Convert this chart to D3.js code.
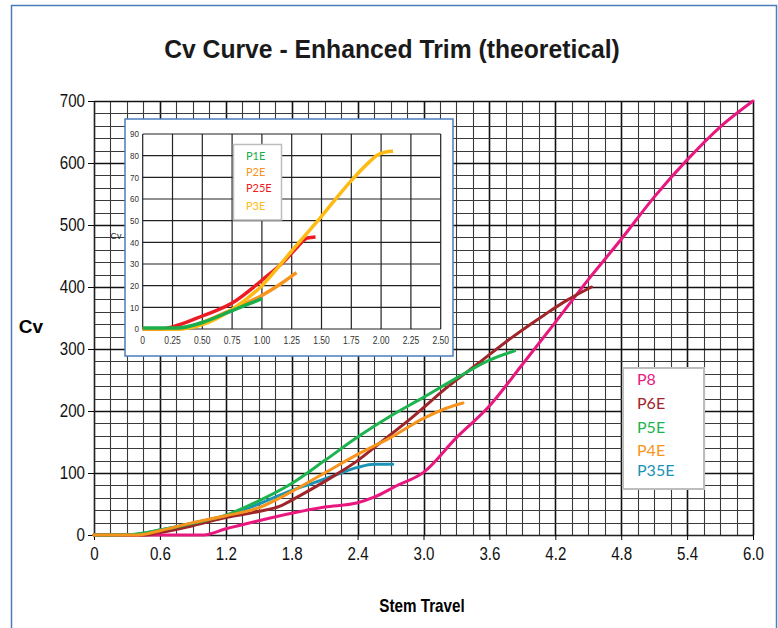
<!DOCTYPE html>
<html>
<head>
<meta charset="utf-8">
<script src="https://cdn.jsdelivr.net/npm/d3@7"></script>
<style>
  body { margin: 0; background: #fff; }
  text { font-family: "Liberation Sans", Arial, sans-serif; }
</style>
</head>
<body>
<div id="container"></div>
<script>
// ---- data ----
const xTicks = [0, 0.6, 1.2, 1.8, 2.4, 3.0, 3.6, 4.2, 4.8, 5.4, 6.0];
const xTickLabels = ['0', '0.6', '1.2', '1.8', '2.4', '3.0', '3.6', '4.2', '4.8', '5.4', '6.0'];
const yTicks = [0, 100, 200, 300, 400, 500, 600, 700];

const mainNames = ['P8', 'P6E', 'P5E', 'P4E', 'P35E'];

const p8Travel = [0, 1.0, 1.2, 1.5, 1.8, 2.1, 2.4, 2.55, 2.75, 3.0, 3.3, 3.6, 3.9, 4.2, 4.5, 4.8, 5.1, 5.4, 5.7, 6.0];
const p8Cv = [0, 0, 10, 23, 35, 45, 52, 61, 79, 101, 157, 208, 275, 343, 412, 477, 545, 605, 658, 700];

const p6eTravel = [0, 0.45, 0.6, 0.9, 1.2, 1.5, 1.7, 1.85, 2.0, 2.2, 2.4, 2.6, 2.9, 3.2, 3.5, 3.8, 4.1, 4.3, 4.53];
const p6eCv = [0, 0, 4, 15, 28, 38, 47, 61, 76, 97, 120, 148, 190, 236, 277, 318, 355, 378, 400];

const p5eTravel = [0, 0.35, 0.6, 0.9, 1.2, 1.5, 1.8, 2.1, 2.4, 2.7, 3.0, 3.3, 3.6, 3.83];
const p5eCv = [0, 1, 8, 19, 32, 55, 83, 120, 158, 192, 222, 253, 282, 297];

const p4eTravel = [0, 0.4, 0.6, 0.9, 1.2, 1.5, 1.8, 2.1, 2.4, 2.7, 3.0, 3.2, 3.36];
const p4eCv = [0, 0, 7, 20, 31, 44, 70, 100, 130, 157, 188, 204, 213];

const p35eTravel = [0, 0.35, 0.6, 0.9, 1.2, 1.5, 1.8, 2.0, 2.2, 2.4, 2.55, 2.72];
const p35eCv = [0, 1, 8, 19, 31, 50, 72, 84, 97, 109, 114, 114];

// inset
const insetXTicks = [0, 0.25, 0.5, 0.75, 1.0, 1.25, 1.5, 1.75, 2.0, 2.25, 2.5];
const insetXTickLabels = ['0', '0.25', '0.50', '0.75', '1.00', '1.25', '1.50', '1.75', '2.00', '2.25', '2.50'];
const insetYTicks = [0, 10, 20, 30, 40, 50, 60, 70, 80, 90];

const insetNames = ['P1E', 'P2E', 'P25E', 'P3E'];

const p1eTravel = [0, 0.3, 0.5, 0.75, 1.0];
const p1eCv = [0.5, 0.5, 3, 8.5, 14];

const p2eTravel = [0, 0.3, 0.5, 0.75, 1.0, 1.15, 1.29];
const p2eCv = [0, 0, 3, 9, 15.5, 20.5, 26];

const p25eTravel = [0, 0.15, 0.25, 0.5, 0.75, 1.0, 1.2, 1.3, 1.38, 1.45];
const p25eCv = [0, 0, 1, 6, 12, 22.5, 32, 38, 42, 42.5];

const p3eTravel = [0, 0.3, 0.5, 0.75, 1.0, 1.25, 1.5, 1.75, 1.9, 1.97, 2.03, 2.1];
const p3eCv = [0, 0, 2, 9, 20, 36, 52, 68.5, 77, 80.3, 81.6, 82];

// ---- drawing ----
const W = 778, H = 628;
const svg = d3.select('#container').append('svg')
  .attr('width', W).attr('height', H);

// squeeze text horizontally to imitate the narrow face of the original
const narrow = (sel, f) => sel.each(function () {
  const w = this.getComputedTextLength();
  d3.select(this).attr('textLength', w * f).attr('lengthAdjust', 'spacingAndGlyphs');
});

svg.append('rect').attr('width', W).attr('height', H).attr('fill', '#fff');
svg.append('rect')
  .attr('x', 11.5).attr('y', 5.5).attr('width', 765).attr('height', 700)
  .attr('fill', 'none').attr('stroke', '#4a7ebb').attr('stroke-width', 1.5);

svg.append('text')
  .attr('x', 392).attr('y', 58)
  .attr('text-anchor', 'middle')
  .attr('font-size', 26).attr('font-weight', 'bold').attr('fill', '#1a1a1a')
  .text('Cv Curve - Enhanced Trim (theoretical)')
  .call(narrow, 0.95);

const x = d3.scaleLinear().domain([0, 6]).range([94, 753]);
const y = d3.scaleLinear().domain([0, 700]).range([535, 101]);

// grid
const grid = svg.append('g');
const vGrid = d3.range(0, 41).map(i => i * 0.15);
const hGrid = d3.range(0, 36).map(i => i * 20);
grid.selectAll('.vg').data(vGrid).enter().append('line')
  .attr('x1', d => Math.round(x(d)) + 0.5).attr('x2', d => Math.round(x(d)) + 0.5)
  .attr('y1', y(700)).attr('y2', y(0))
  .attr('stroke', (d, i) => i % 4 === 0 ? '#111' : '#3a3a3a')
  .attr('stroke-width', (d, i) => i % 4 === 0 ? 1.6 : 1.1);
grid.selectAll('.hg').data(hGrid).enter().append('line')
  .attr('y1', d => Math.round(y(d)) + 0.5).attr('y2', d => Math.round(y(d)) + 0.5)
  .attr('x1', x(0)).attr('x2', x(6))
  .attr('stroke', (d, i) => i % 5 === 0 ? '#111' : '#3a3a3a')
  .attr('stroke-width', (d, i) => i % 5 === 0 ? 1.6 : 1.1);

// axes
const xAxis = svg.append('g')
  .attr('transform', `translate(0, ${y(0)})`)
  .call(d3.axisBottom(x).tickValues(xTicks).tickFormat((d, i) => xTickLabels[i]).tickSize(5).tickPadding(7));
xAxis.select('.domain').attr('stroke', '#222');
xAxis.selectAll('text').attr('font-size', 18).attr('fill', '#111')
  .style('font-family', '"Liberation Sans", Arial, sans-serif')
  .call(narrow, 0.84);

const yAxis = svg.append('g')
  .attr('transform', `translate(${x(0)}, 0)`)
  .call(d3.axisLeft(y).tickValues(yTicks).tickSize(6).tickPadding(3));
yAxis.select('.domain').attr('stroke', '#222');
yAxis.selectAll('text').attr('font-size', 18).attr('fill', '#111')
  .style('font-family', '"Liberation Sans", Arial, sans-serif')
  .call(narrow, 0.84);

svg.append('text')
  .attr('x', 31).attr('y', 333).attr('text-anchor', 'middle')
  .attr('font-size', 19).attr('font-weight', 'bold')
  .text('Cv');
svg.append('text')
  .attr('x', 422).attr('y', 612).attr('text-anchor', 'middle')
  .attr('font-size', 19).attr('font-weight', 'bold')
  .text('Stem Travel')
  .call(narrow, 0.8);

// main curves
const mainColors = { P8: '#e8187f', P6E: '#a0252a', P5E: '#1db34f', P4E: '#f7941d', P35E: '#1a93b5' };
const mainData = {
  P8: p8Travel.map((t, i) => [t, p8Cv[i]]),
  P6E: p6eTravel.map((t, i) => [t, p6eCv[i]]),
  P5E: p5eTravel.map((t, i) => [t, p5eCv[i]]),
  P4E: p4eTravel.map((t, i) => [t, p4eCv[i]]),
  P35E: p35eTravel.map((t, i) => [t, p35eCv[i]])
};
const line = d3.line().x(d => x(d[0])).y(d => y(d[1])).curve(d3.curveMonotoneX);
['P8', 'P35E', 'P6E', 'P5E', 'P4E'].forEach(k => {
  svg.append('path').datum(mainData[k])
    .attr('d', line)
    .attr('fill', 'none').attr('stroke', mainColors[k])
    .attr('stroke-width', 3).attr('stroke-linecap', 'round');
});

// main legend
const lg = svg.append('g');
lg.append('rect').attr('x', 623).attr('y', 368).attr('width', 81).attr('height', 121)
  .attr('fill', '#fff').attr('stroke', '#bdbdbd').attr('stroke-width', 2);
const legendY = [379, 403, 427, 450, 470];
mainNames.forEach((n, i) => {
  lg.append('text').attr('x', 637).attr('y', legendY[i]).attr('dy', '0.36em')
    .attr('font-size', 16).attr('fill', mainColors[n])
    .style('font-family', 'Lato, "Open Sans", sans-serif')
    .text(n);
});

// ---- inset ----
const inset = svg.append('g');
inset.append('rect').attr('x', 125).attr('y', 119).attr('width', 328).attr('height', 237)
  .attr('fill', '#fff').attr('stroke', '#4a7ebb').attr('stroke-width', 1.5);

const ix = d3.scaleLinear().domain([0, 2.5]).range([142.7, 440.7]);
const iy = d3.scaleLinear().domain([0, 90]).range([329, 134]);

inset.selectAll('.ivg').data(insetXTicks).enter().append('line')
  .attr('x1', d => ix(d)).attr('x2', d => ix(d)).attr('y1', iy(90)).attr('y2', iy(0))
  .attr('stroke', '#222').attr('stroke-width', 1.2);
inset.selectAll('.ihg').data(insetYTicks).enter().append('line')
  .attr('y1', d => iy(d)).attr('y2', d => iy(d)).attr('x1', ix(0)).attr('x2', ix(2.5))
  .attr('stroke', '#222').attr('stroke-width', 1.2);

inset.selectAll('.ixl').data(insetXTicks).enter().append('text')
  .attr('x', d => ix(d)).attr('y', 344).attr('text-anchor', 'middle')
  .attr('font-size', 10).attr('fill', '#333')
  .text((d, i) => insetXTickLabels[i])
  .call(narrow, 0.85);
inset.selectAll('.iyl').data(insetYTicks).enter().append('text')
  .attr('x', 139).attr('y', d => iy(d)).attr('dy', '0.35em').attr('text-anchor', 'end')
  .attr('font-size', 9.5).attr('fill', '#333')
  .text(d => d)
  .call(narrow, 0.85);
svg.append('text').attr('x', 116).attr('y', 239).attr('text-anchor', 'middle')
  .attr('font-size', 9).attr('fill', '#222').text('Cv');

const insetColors = { P1E: '#19ad4b', P2E: '#f7941d', P25E: '#ed1c24', P3E: '#fdbb13' };
const insetData = {
  P1E: p1eTravel.map((t, i) => [t, p1eCv[i]]),
  P2E: p2eTravel.map((t, i) => [t, p2eCv[i]]),
  P25E: p25eTravel.map((t, i) => [t, p25eCv[i]]),
  P3E: p3eTravel.map((t, i) => [t, p3eCv[i]])
};
const iline = d3.line().x(d => ix(d[0])).y(d => iy(d[1])).curve(d3.curveMonotoneX);
['P2E', 'P25E', 'P3E', 'P1E'].forEach(k => {
  inset.append('path').datum(insetData[k])
    .attr('d', iline)
    .attr('fill', 'none').attr('stroke', insetColors[k])
    .attr('stroke-width', 3.5);
});

inset.append('rect').attr('x', 233.5).attr('y', 144.5).attr('width', 48).attr('height', 75.5)
  .attr('fill', '#fff').attr('stroke', '#bdbdbd').attr('stroke-width', 1.5);
const insetLegendY = [155.7, 172, 188, 206];
insetNames.forEach((n, i) => {
  inset.append('text').attr('x', 246).attr('y', insetLegendY[i]).attr('dy', '0.36em')
    .attr('font-size', 11).attr('fill', insetColors[n])
    .style('font-family', 'Lato, "Open Sans", sans-serif')
    .text(n);
});
</script>
</body>
</html>
